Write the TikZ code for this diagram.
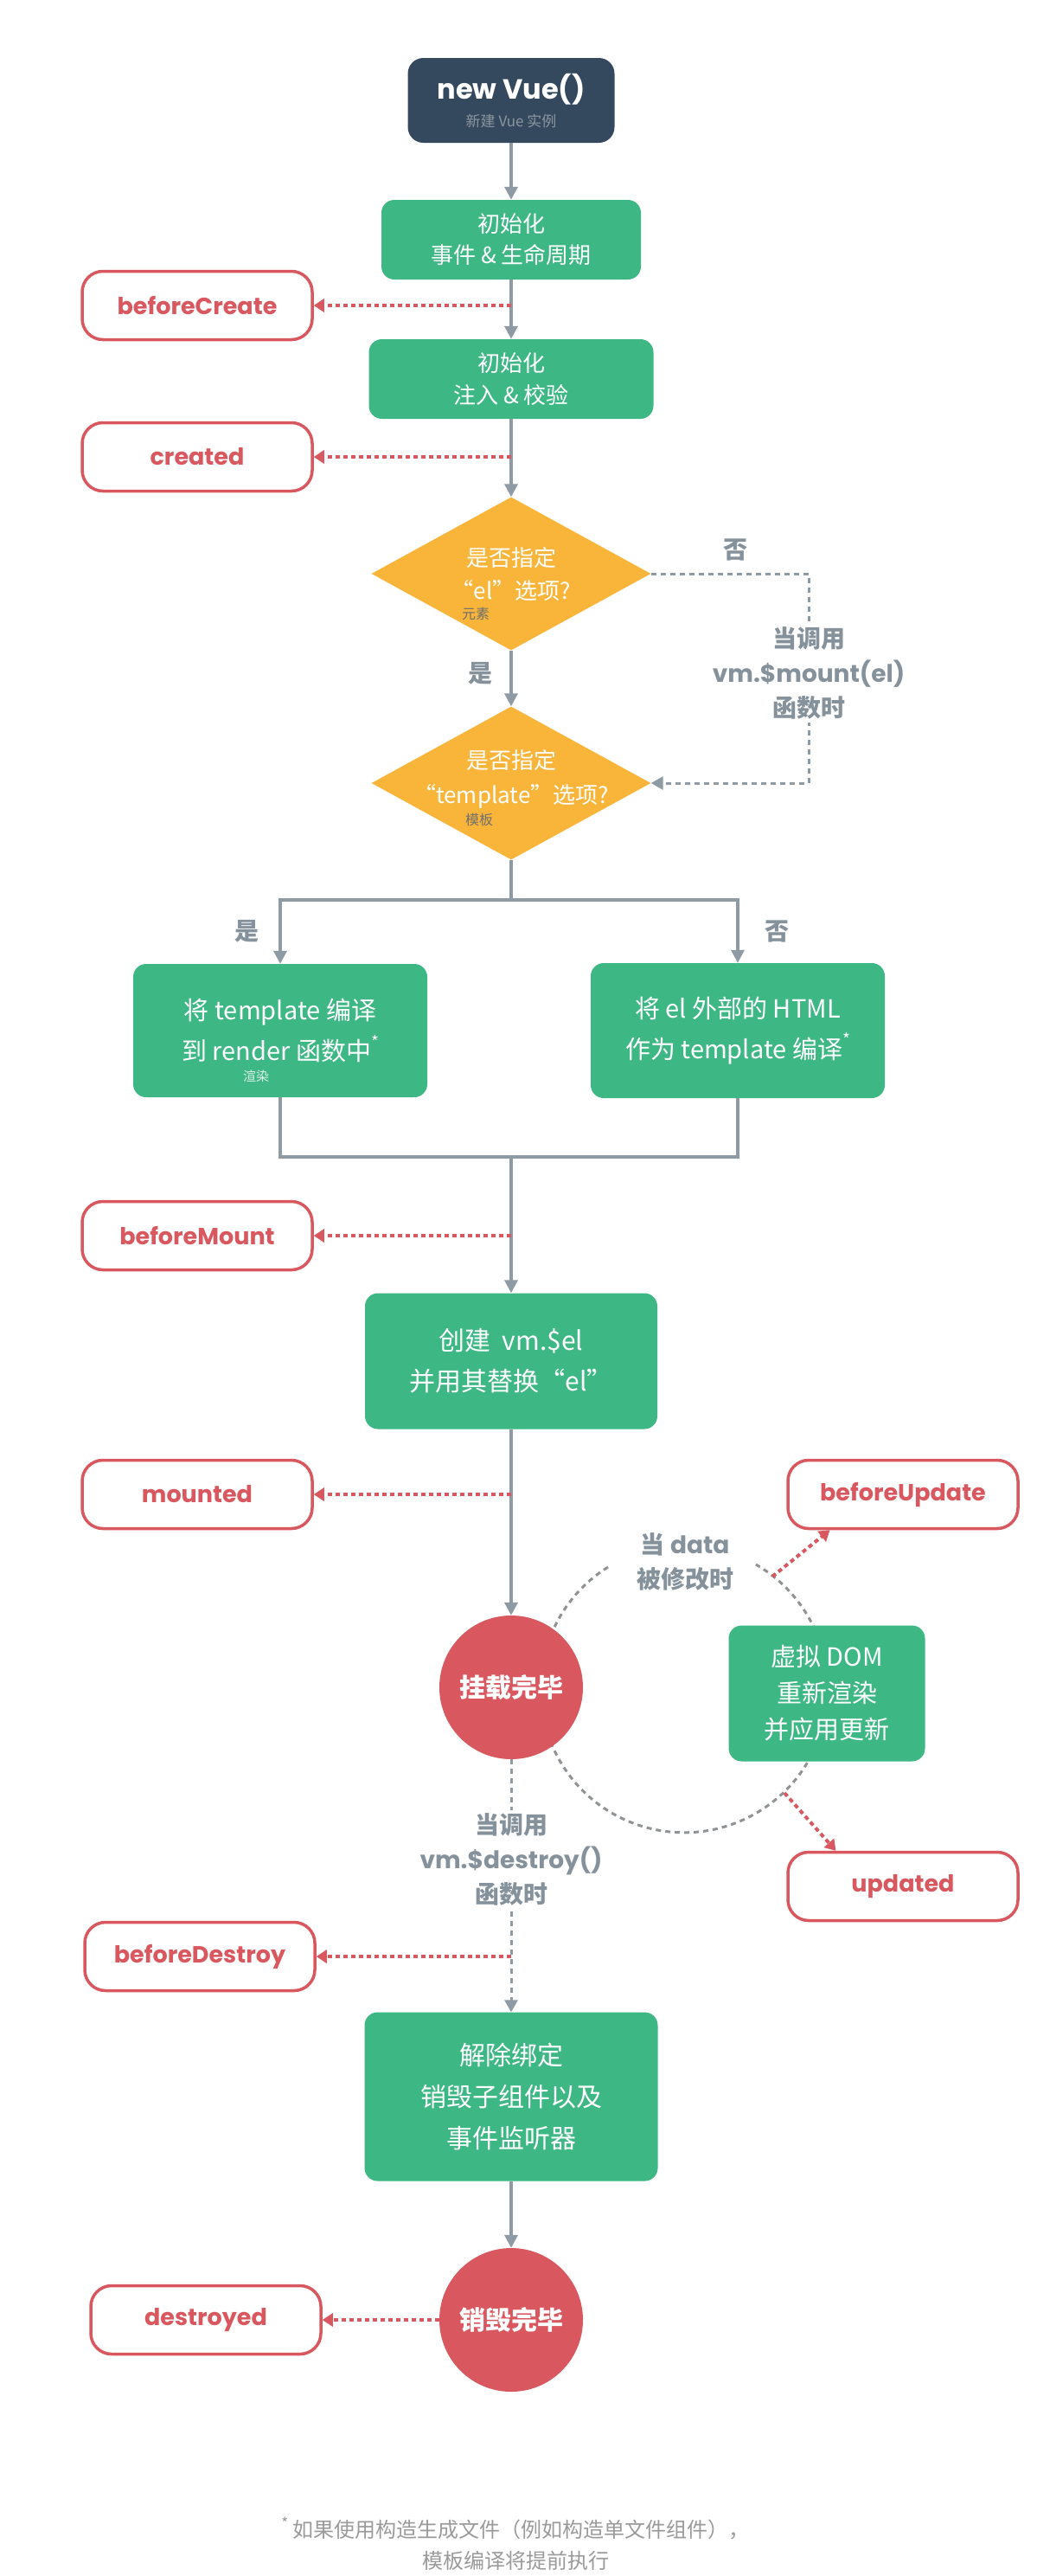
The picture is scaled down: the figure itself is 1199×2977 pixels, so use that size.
\documentclass[tikz,border=0pt]{standalone}
\usepackage{fontspec}
\setmainfont{Noto Sans CJK SC}
\newfontfamily\pop{Poppins}
\usetikzlibrary{arrows.meta,shapes.geometric,backgrounds}
\definecolor{vdark}{HTML}{35495E}
\definecolor{vgreen}{HTML}{3DB784}
\definecolor{vyellow}{HTML}{F8B53A}
\definecolor{vred}{HTML}{D9585F}
\definecolor{vgray}{HTML}{8E9BA5}
\definecolor{varc}{HTML}{8F9396}
\definecolor{vlabel}{HTML}{85929C}
\definecolor{vsub}{HTML}{8B959F}
\definecolor{vsmall}{HTML}{707070}
\definecolor{vfoot}{HTML}{9A9A9A}
\tikzset{
  greenbox/.style={rectangle, rounded corners=15pt, fill=vgreen, text=white, align=center, inner sep=0pt},
  hookbox/.style={rectangle, rounded corners=24pt, draw=vred, line width=3.5pt, fill=white, text=vred,
    minimum width=266pt, minimum height=79pt, inner sep=0pt, font=\pop\bfseries\fontsize{27}{30}\selectfont},
  decision/.style={diamond, fill=vyellow, inner sep=0pt, minimum width=323pt, minimum height=177pt},
  dtext/.style={text=white, align=center, inner sep=0pt},
  endcircle/.style={circle, fill=vred, minimum size=166pt, inner sep=0pt, text=white,
    font=\bfseries\fontsize{30}{30}\selectfont},
  flow/.style={draw=vgray, line width=3.5pt, -{Triangle[width=15pt,length=15pt]}},
  plainline/.style={draw=vgray, line width=3.5pt},
  hookarrow/.style={draw=vred, line width=4pt, dash pattern=on 5pt off 4pt, -{Triangle[width=15pt,length=12pt]}},
  graydash/.style={draw=vgray, line width=3pt, dash pattern=on 6pt off 5pt},
  graydasharrow/.style={graydash, -{Triangle[width=15pt,length=14pt]}},
  glabel/.style={text=vlabel, align=center, inner sep=0pt, font=\bfseries\fontsize{28}{40}\selectfont},
  smallnote/.style={inner sep=0pt, font=\fontsize{16}{16}\selectfont},
}
\newcommand{\pb}[1]{{\pop\bfseries #1}}
\newcommand{\astr}{\raisebox{0.5em}{\fontsize{19}{19}\selectfont *}}
\begin{document}
\begin{tikzpicture}[x=1pt,y=-1pt]
\useasboundingbox (0,0) rectangle (1199,2977);

% ---------- main column ----------
\node[rectangle, rounded corners=18pt, fill=vdark, minimum width=239pt, minimum height=98pt, inner sep=0pt] (vue) at (591,116) {};
\node[inner sep=0pt, text=white, font=\pop\bfseries\fontsize{32}{32}\selectfont] (vuet) at (591,103) {new Vue()};
\node[inner sep=0pt, text=vsub, font=\fontsize{17}{17}\selectfont] (vues) at (591,140) {新建 Vue 实例};

\node[greenbox, minimum width=300pt, minimum height=92pt, font=\fontsize{26}{36}\selectfont] (init1) at (591,277) {初始化\\事件 \& 生命周期};
\node[greenbox, minimum width=329pt, minimum height=92pt, font=\fontsize{26}{37}\selectfont] (init2) at (591,438) {初始化\\注入 \& 校验};

\node[decision] (d1) at (591,663) {};
\node[dtext, font=\fontsize{26}{38}\selectfont] (d1t) at (591,664) {是否指定\\“el”选项?};
\node[smallnote, text=vsmall] (d1n) at (550,709) {元素};

\node[decision] (d2) at (591,905) {};
\node[dtext, font=\fontsize{26}{40}\selectfont] (d2t) at (591,900) {是否指定\\“template”选项?};
\node[smallnote, text=vsmall] (d2n) at (554,947) {模板};

\node[greenbox, minimum width=340pt, minimum height=154pt, font=\fontsize{29}{47}\selectfont] (lbox) at (324,1191) {将 template 编译\\到 render 函数中\astr};
\node[smallnote, text=white!82!vgreen, font=\fontsize{15}{15}\selectfont] (lboxn) at (296,1244) {渲染};
\node[greenbox, minimum width=340pt, minimum height=156pt, font=\fontsize{29}{47}\selectfont] (rbox) at (853,1191) {将 el 外部的 HTML\\作为 template 编译\astr};

\node[greenbox, minimum width=338pt, minimum height=157pt, font=\fontsize{30}{47}\selectfont] (g3) at (591,1573) {创建\ \ vm.\$el\\并用其替换“el”};

\node[endcircle] (c1) at (591,1950) {挂载完毕};
\node[greenbox, minimum width=227pt, minimum height=157pt, font=\fontsize{29}{42}\selectfont] (upd) at (956,1957) {虚拟 DOM\\重新渲染\\并应用更新};

\node[greenbox, minimum width=339pt, minimum height=195pt, font=\fontsize{30}{48}\selectfont] (g4) at (591,2423) {解除绑定\\销毁子组件以及\\事件监听器};
\node[endcircle] (c2) at (591,2681) {销毁完毕};

% ---------- hooks ----------
\node[hookbox] (bc) at (228,353) {beforeCreate};
\node[hookbox] (cr) at (228,528) {created};
\node[hookbox] (bm) at (228,1428) {beforeMount};
\node[hookbox] (mt) at (228,1727) {mounted};
\node[hookbox] (bu) at (1044,1727) {beforeUpdate};
\node[hookbox] (ud) at (1044,2180) {updated};
\node[hookbox] (bd) at (231,2261) {beforeDestroy};
\node[hookbox] (dd) at (238,2681) {destroyed};

% ---------- solid flow ----------
\draw[flow] (vue) -- (init1);
\draw[flow] (init1) -- (init2);
\draw[flow] (init2) -- (d1.north);
\draw[flow] (d1.south) -- (d2.north);
\node[glabel] (yes1) at (555,778) {是};

\coordinate (split) at (591,1040);
\draw[plainline] (d2.south) -- (split);
\draw[flow] (split) -| (lbox.north);
\draw[flow] (split) -| (rbox.north);
\node[glabel] (yes2) at (285,1076) {是};
\node[glabel] (no2) at (898,1076) {否};

\coordinate (merge) at (591,1337);
\draw[plainline] (lbox.south) |- (merge);
\draw[plainline] (rbox.south) |- (merge);
\draw[flow] (merge) -- (g3.north);
\draw[flow] (g3) -- (c1);
\draw[flow] (g4) -- (c2);

% ---------- el not given ----------
\coordinate (mnt) at (935,783);
\draw[graydasharrow] (d1.east) -| (mnt) |- (d2.east);
\node[glabel] (no1) at (850,635) {否};
\node[glabel, fill=white, inner sep=4pt] (mntt) at (935,778) {当调用\\\pb{vm.\$mount(el)}\\函数时};

% ---------- update loop ----------
\begin{scope}[on background layer]
\fill[white] (0,0) rectangle (1199,2977);
\draw[graydash, draw=varc] (703,1811) arc[start angle=122, end angle=420, radius=166pt];
\end{scope}
\node[glabel] (datat) at (792,1805) {当 \pb{data}\\被修改时};
\coordinate (a1) at (893,1822);
\coordinate (a2) at (907,2072);
\draw[hookarrow] (a1) -- (bu.206);
\draw[hookarrow] (a2) -- (ud.152);

% ---------- destroy ----------
\draw[graydasharrow] (c1.south) -- (g4.north);
\node[glabel, fill=white, inner sep=4pt] (dest) at (591,2149) {当调用\\\pb{vm.\$destroy()}\\函数时};

% ---------- hook arrows ----------
\coordinate (h1) at (591,353);
\coordinate (h2) at (591,528);
\coordinate (h3) at (591,1428);
\coordinate (h4) at (591,1727);
\coordinate (h5) at (591,2261);
\draw[hookarrow] (h1) -- (bc.east);
\draw[hookarrow] (h2) -- (cr.east);
\draw[hookarrow] (h3) -- (bm.east);
\draw[hookarrow] (h4) -- (mt.east);
\draw[hookarrow] (h5) -- (bd.east);
\draw[hookarrow] (c2.west) -- (dd.east);

% ---------- footnote ----------
\node[inner sep=0pt, text=vfoot, font=\fontsize{24}{40}\selectfont] (fn1) at (596,2922) {\raisebox{0.4em}{\fontsize{17}{17}\selectfont *}\ 如果使用构造生成文件（例如构造单文件组件），};
\node[inner sep=0pt, text=vfoot, font=\fontsize{24}{40}\selectfont] (fn2) at (596,2959) {模板编译将提前执行};
\end{tikzpicture}
\end{document}
